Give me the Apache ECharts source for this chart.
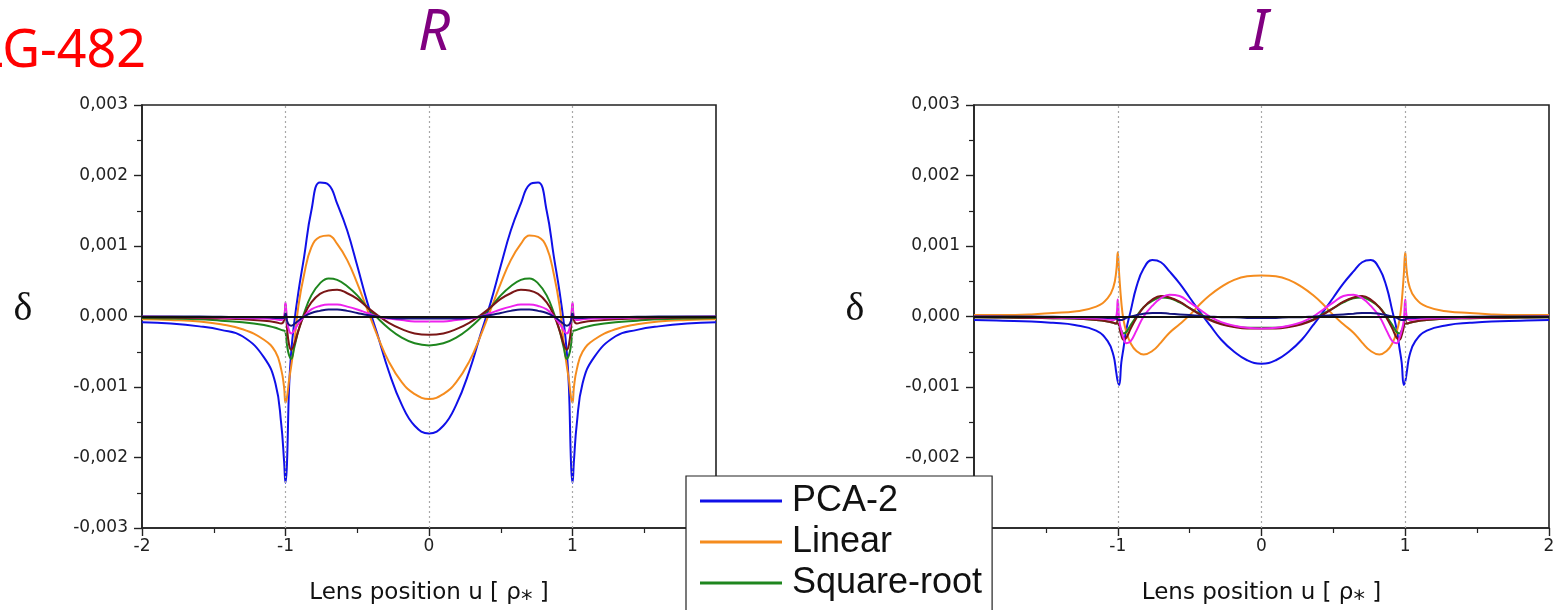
<!DOCTYPE html>
<html><head><meta charset="utf-8">
<script src="https://cdn.jsdelivr.net/npm/echarts@6/dist/echarts.min.js"></script>
<style>html,body{margin:0;padding:0;background:#fff}#c{width:1561px;height:610px}</style>
</head><body><div id="c"></div>
<script>
// Lens position u (in rho_*), shared sample points
const u = [-2.0,-1.8,-1.6,-1.45,-1.3,-1.15,-1.07,-1.03,-1.01,-1.0,-0.99,-0.975,-0.96,-0.94,-0.91,-0.87,-0.82,-0.76,-0.70,-0.64,-0.57,-0.50,-0.43,-0.36,-0.28,-0.19,-0.1,0,
0.1,0.19,0.28,0.36,0.43,0.50,0.57,0.64,0.70,0.76,0.82,0.87,0.91,0.94,0.96,0.975,0.99,1.0,1.01,1.03,1.07,1.15,1.3,1.45,1.6,1.8,2.0];

// delta values, in units of 0.001 — panel R
const R_PCA2 = [-0.08,-0.10,-0.14,-0.19,-0.28,-0.58,-0.95,-1.52,-2.05,-2.36,-2.1,-1.0,-0.5,-0.1,0.35,0.85,1.5,1.9,1.87,1.6,1.22,0.72,0.2,-0.25,-0.78,-1.25,-1.55,-1.66,
-1.55,-1.25,-0.78,-0.25,0.2,0.72,1.22,1.6,1.87,1.9,1.5,0.85,0.35,-0.1,-0.5,-1.0,-2.1,-2.36,-2.05,-1.52,-0.95,-0.58,-0.28,-0.19,-0.14,-0.10,-0.08];
const R_Linear = [-0.04,-0.05,-0.07,-0.11,-0.18,-0.33,-0.5,-0.75,-1.0,-1.22,-1.15,-0.9,-0.7,-0.4,0.15,0.6,0.98,1.13,1.15,1.03,0.8,0.47,0.1,-0.27,-0.64,-0.93,-1.1,-1.17,
-1.1,-0.93,-0.64,-0.27,0.1,0.47,0.8,1.03,1.15,1.13,0.98,0.6,0.15,-0.4,-0.7,-0.9,-1.15,-1.22,-1.0,-0.75,-0.5,-0.33,-0.18,-0.11,-0.07,-0.05,-0.04];
const R_Sqrt = [-0.02,-0.03,-0.04,-0.06,-0.08,-0.12,-0.16,-0.19,-0.2,-0.22,-0.4,-0.55,-0.6,-0.45,-0.2,0.05,0.3,0.47,0.54,0.52,0.43,0.3,0.13,-0.02,-0.17,-0.3,-0.38,-0.41,
-0.38,-0.3,-0.17,-0.02,0.13,0.3,0.43,0.52,0.54,0.47,0.3,0.05,-0.2,-0.45,-0.6,-0.55,-0.4,-0.22,-0.2,-0.19,-0.16,-0.12,-0.08,-0.06,-0.04,-0.03,-0.02];
const R_Quad = [-0.01,-0.015,-0.02,-0.03,-0.04,-0.06,-0.08,-0.1,-0.05,0.17,-0.15,-0.4,-0.47,-0.4,-0.2,0.02,0.2,0.32,0.37,0.38,0.33,0.25,0.13,0.02,-0.09,-0.18,-0.24,-0.26,
-0.24,-0.18,-0.09,0.02,0.13,0.25,0.33,0.38,0.37,0.32,0.2,0.02,-0.2,-0.4,-0.47,-0.4,-0.15,0.17,-0.05,-0.1,-0.08,-0.06,-0.04,-0.03,-0.02,-0.015,-0.01];
const R_Log = [0,-0.005,-0.01,-0.015,-0.02,-0.03,-0.04,-0.05,0,0.2,-0.05,-0.2,-0.24,-0.2,-0.1,0,0.1,0.15,0.17,0.17,0.14,0.1,0.05,0,-0.03,-0.05,-0.07,-0.07,
-0.07,-0.05,-0.03,0,0.05,0.1,0.14,0.17,0.17,0.15,0.1,0,-0.1,-0.2,-0.24,-0.2,-0.05,0.2,0,-0.05,-0.04,-0.03,-0.02,-0.015,-0.01,-0.005,0];
const R_Pow2 = [0,0,0,-0.005,-0.01,-0.01,-0.02,-0.02,-0.02,0.05,-0.06,-0.12,-0.13,-0.11,-0.06,0,0.05,0.08,0.1,0.1,0.08,0.05,0.02,0,-0.02,-0.03,-0.03,-0.03,
-0.03,-0.03,-0.02,0,0.02,0.05,0.08,0.1,0.1,0.08,0.05,0,-0.06,-0.11,-0.13,-0.12,-0.06,0.05,-0.02,-0.02,-0.02,-0.01,-0.01,-0.005,0,0,0];

// delta values, in units of 0.001 — panel I
const I_PCA2 = [-0.05,-0.06,-0.07,-0.09,-0.12,-0.2,-0.35,-0.55,-0.8,-0.92,-0.97,-0.65,-0.45,-0.18,0.08,0.42,0.68,0.8,0.77,0.64,0.47,0.27,0.07,-0.12,-0.33,-0.5,-0.62,-0.67,
-0.62,-0.5,-0.33,-0.12,0.07,0.27,0.47,0.64,0.77,0.8,0.68,0.42,0.08,-0.18,-0.45,-0.65,-0.97,-0.92,-0.8,-0.55,-0.35,-0.2,-0.12,-0.09,-0.07,-0.06,-0.05];
const I_Linear = [0.02,0.02,0.03,0.05,0.07,0.14,0.26,0.42,0.65,0.91,0.6,0.2,-0.05,-0.22,-0.38,-0.49,-0.54,-0.49,-0.37,-0.23,-0.11,0.02,0.17,0.3,0.42,0.52,0.57,0.58,
0.57,0.52,0.42,0.3,0.17,0.02,-0.11,-0.23,-0.37,-0.49,-0.54,-0.49,-0.38,-0.22,-0.05,0.2,0.6,0.91,0.65,0.42,0.26,0.14,0.07,0.05,0.03,0.02,0.02];
const I_Sqrt = [-0.01,-0.015,-0.02,-0.025,-0.03,-0.05,-0.07,-0.09,-0.1,-0.1,-0.13,-0.2,-0.24,-0.22,-0.12,0,0.13,0.22,0.27,0.26,0.2,0.12,0.04,-0.04,-0.1,-0.14,-0.16,-0.16,
-0.16,-0.14,-0.1,-0.04,0.04,0.12,0.2,0.26,0.27,0.22,0.13,0,-0.12,-0.22,-0.24,-0.2,-0.13,-0.1,-0.1,-0.09,-0.07,-0.05,-0.03,-0.025,-0.02,-0.015,-0.01];
const I_Quad = [-0.01,-0.015,-0.02,-0.025,-0.03,-0.05,-0.07,-0.09,-0.1,-0.02,-0.15,-0.27,-0.33,-0.3,-0.17,-0.02,0.13,0.24,0.29,0.27,0.21,0.12,0.03,-0.05,-0.11,-0.15,-0.17,-0.17,
-0.17,-0.15,-0.11,-0.05,0.03,0.12,0.21,0.27,0.29,0.24,0.13,-0.02,-0.17,-0.3,-0.33,-0.27,-0.15,-0.02,-0.1,-0.09,-0.07,-0.05,-0.03,-0.025,-0.02,-0.015,-0.01];
const I_Log = [0,-0.005,-0.01,-0.015,-0.02,-0.03,-0.04,-0.05,0,0.24,-0.05,-0.2,-0.3,-0.38,-0.35,-0.2,0,0.15,0.26,0.31,0.29,0.2,0.1,0,-0.08,-0.13,-0.16,-0.17,
-0.16,-0.13,-0.08,0,0.1,0.2,0.29,0.31,0.26,0.15,0,-0.2,-0.35,-0.38,-0.3,-0.2,-0.05,0.24,0,-0.05,-0.04,-0.03,-0.02,-0.015,-0.01,-0.005,0];
const I_Pow2 = [0,0,0,-0.005,-0.01,-0.01,-0.02,-0.02,-0.03,-0.04,-0.05,-0.05,-0.04,-0.02,0,0.02,0.04,0.05,0.05,0.04,0.03,0.02,0.01,0,-0.01,-0.01,-0.02,-0.02,
-0.02,-0.01,-0.01,0,0.01,0.02,0.03,0.04,0.05,0.05,0.04,0.02,0,-0.02,-0.04,-0.05,-0.05,-0.04,-0.03,-0.02,-0.02,-0.01,-0.01,-0.005,0,0,0];

const seriesNames = ['PCA-2','Linear','Square-root','Quadratic','Logarithmic','Power-2'];
const legendNames = ['PCA-2','Linear','Square-root'];
const seriesColors = ['#1010e8','#f58c1e','#1e861e','#7a1616','#ee22ee','#14147e'];
const yTickLabels = ['-0,003','-0,002','-0,001','0,000','0,001','0,002','0,003'];
const refLinesU = [-1, 0, 1];
const xAxisTitle = 'Lens position u [ ρ⁎ ]';
const panelTitles = ['R', 'I'];

const panelsData = [
  [R_PCA2, R_Linear, R_Sqrt, R_Quad, R_Log, R_Pow2],
  [I_PCA2, I_Linear, I_Sqrt, I_Quad, I_Log, I_Pow2]
];

const axisColor = '#222';
const grids = [
  {left:142, top:105, width:574, height:423},
  {left:974, top:105, width:575, height:423}
];

function xAxisCfg(gi){
  return {
    type:'value', gridIndex:gi, min:-2, max:2, interval:1,
    axisLine:{show:true, onZero:false, lineStyle:{color:axisColor, width:1.6}},
    axisTick:{show:true, length:8, lineStyle:{color:axisColor, width:1.4}},
    minorTick:{show:true, splitNumber:2, length:5, lineStyle:{color:axisColor, width:1.2}},
    splitLine:{show:false}, minorSplitLine:{show:false},
    axisLabel:{fontFamily:'DejaVu Sans', fontSize:17, color:'#222', margin:10},
    name:xAxisTitle, nameLocation:'middle', nameGap:54,
    nameTextStyle:{fontFamily:'DejaVu Sans', fontSize:23, color:'#111'}
  };
}
function yAxisCfg(gi){
  return {
    type:'value', gridIndex:gi, min:-3, max:3, interval:1,
    axisLine:{show:true, onZero:false, lineStyle:{color:axisColor, width:1.6}},
    axisTick:{show:true, length:8, lineStyle:{color:axisColor, width:1.4}},
    minorTick:{show:true, splitNumber:2, length:5, lineStyle:{color:axisColor, width:1.2}},
    splitLine:{show:false}, minorSplitLine:{show:false},
    axisLabel:{fontFamily:'DejaVu Sans', fontSize:17, color:'#222', margin:14,
      formatter: v => yTickLabels[Math.round(v) + 3]}
  };
}

const series = [];
panelsData.forEach((arrs, gi) => {
  series.push({
    type:'line', name:'guides'+gi, xAxisIndex:gi, yAxisIndex:gi, data:[], z:1, silent:true,
    markLine:{silent:true, symbol:['none','none'], label:{show:false}, animation:false,
      lineStyle:{type:[2,3], color:'#a8a8a8', width:1.2},
      data: refLinesU.map(v => ({xAxis:v}))}
  });
  arrs.forEach((arr, k) => {
    series.push({
      type:'line', name:seriesNames[k], xAxisIndex:gi, yAxisIndex:gi,
      data: u.map((x, i) => [x, arr[i]]),
      showSymbol:false, symbol:'none', smooth:0.45, z:3,
      lineStyle:{width:2, color:seriesColors[k]}, itemStyle:{color:seriesColors[k]}
    });
  });
  series.push({
    type:'line', name:'zero'+gi, xAxisIndex:gi, yAxisIndex:gi, data:[], z:5, silent:true,
    markLine:{silent:true, symbol:['none','none'], label:{show:false}, animation:false,
      lineStyle:{type:'solid', color:'#111', width:1.8},
      data:[{yAxis:0}]}
  });
});

const chart = echarts.init(document.getElementById('c'));
chart.setOption({
  animation:false,
  backgroundColor:'#fff',
  grid: grids.map(g => Object.assign({show:true, borderColor:axisColor, borderWidth:1.6, backgroundColor:'transparent'}, g)),
  xAxis:[xAxisCfg(0), xAxisCfg(1)],
  yAxis:[yAxisCfg(0), yAxisCfg(1)],
  legend:{
    data:legendNames.map(n => ({name:n, icon:'rect'})), orient:'vertical', left:686, top:476, height:320,
    selectedMode:false,
    padding:[7,10,60,14], itemGap:5, itemWidth:82, itemHeight:3,
    backgroundColor:'#fff', borderColor:'#222', borderWidth:1.2, z:10,
    textStyle:{fontFamily:'Liberation Sans', fontSize:36, color:'#111', padding:[0,0,0,5]}
  },
  graphic:[
    {type:'text', x:146, y:52, style:{text:'LG-482', font:'52px "Noto Sans"', fill:'#ff0000', align:'right', verticalAlign:'middle'}},
    {type:'text', x:434, y:34, style:{text:panelTitles[0], font:'italic 56px "Noto Sans"', fill:'#800080', align:'center', verticalAlign:'middle'}},
    {type:'text', x:1259, y:34, style:{text:panelTitles[1], font:'italic 56px "Noto Sans"', fill:'#800080', align:'center', verticalAlign:'middle'}},
    {type:'text', x:23, y:309, style:{text:'δ', font:'40px "Liberation Serif"', fill:'#111', align:'center', verticalAlign:'middle'}},
    {type:'text', x:855, y:309, style:{text:'δ', font:'40px "Liberation Serif"', fill:'#111', align:'center', verticalAlign:'middle'}}
  ],
  series: series
});
</script>
</body></html>
